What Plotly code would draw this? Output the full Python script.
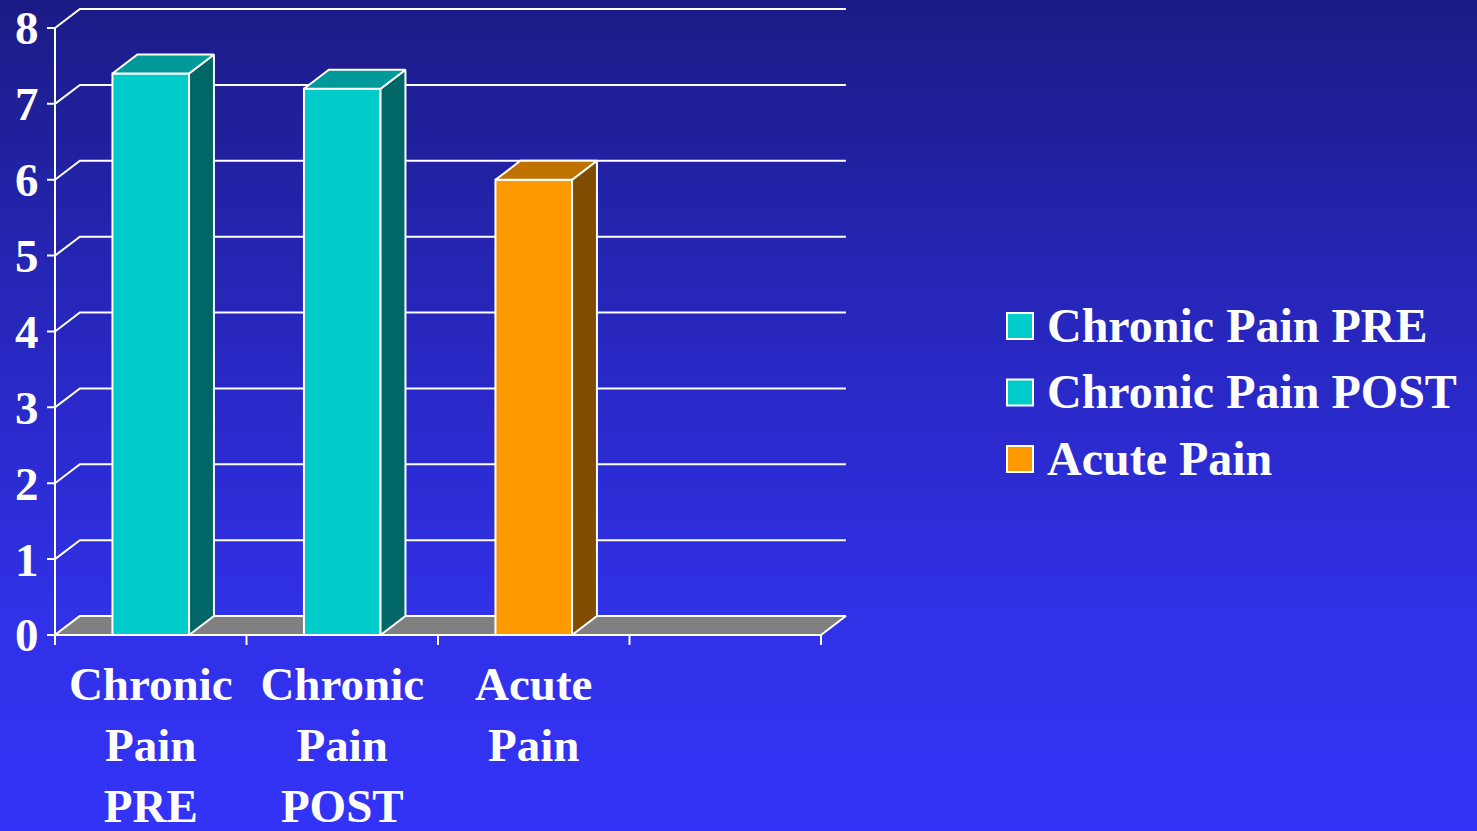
import plotly.graph_objects as go

# ---------------- data ----------------
categories = ["Chronic<br>Pain<br>PRE", "Chronic<br>Pain<br>POST", "Acute<br>Pain"]
series_names = ["Chronic Pain PRE", "Chronic Pain POST", "Acute Pain"]
values = [7.4, 7.2, 6.0]
y_ticks = [0, 1, 2, 3, 4, 5, 6, 7, 8]
n_slots = 4  # category slots on the axis (the last one is empty)

# ---------------- styles ----------------
front_colors = ["#00cccc", "#00cccc", "#ff9900"]
side_colors = ["#006666", "#006666", "#7f4c00"]
top_colors = ["#009999", "#009999", "#bf7200"]
floor_color = "#808080"
bg_stops = [(0.0, "#1b1b86"), (0.25, "#2323aa"), (0.5, "#2a2acc"), (0.75, "#3131e8"), (1.0, "#3333f7")]
FONT = "Liberation Serif"
FS = 47
FS_LEG = 48

W, H = 1477, 831
DX, DY = 0.13, 0.25          # 3-D depth offset (category units, value units)
BAR_W = 0.4
X_LO, X_HI = -0.56, n_slots - 0.5 + DX + 0.02
Y_LO, Y_HI = -0.16, 8.32
PX_X, PX_X0 = 191.5, 55.0    # px per category, px of x=-0.5
PX_Y, PX_Y0 = 75.875, 635.0  # px per unit, px of y=0

left_px = PX_X0 + (X_LO + 0.5) * PX_X
right_px = PX_X0 + (X_HI + 0.5) * PX_X
top_px = PX_Y0 - Y_HI * PX_Y
bot_px = PX_Y0 - Y_LO * PX_Y
x_dom = [left_px / W, right_px / W]
y_dom = [1 - bot_px / H, 1 - top_px / H]

fig = go.Figure()

# background gradient
fracs = [s[0] for s in bg_stops]
fig.add_trace(go.Heatmap(
    x=[0, 1], y=[f * H for f in fracs], z=[[f, f] for f in fracs],
    colorscale=[[f, c] for f, c in bg_stops], zmin=0, zmax=1,
    zsmooth="best", showscale=False, hoverinfo="skip", xaxis="x", yaxis="y"))

# back grid lines
gx, gy = [], []
x_left, x_right = -0.5, n_slots - 0.5
for t in y_ticks:
    gx += [x_left, x_left + DX, x_right + DX, None]
    gy += [t, t + DY, t + DY, None]
fig.add_trace(go.Scatter(x=gx, y=gy, mode="lines", line=dict(color="white", width=2),
                         hoverinfo="skip", xaxis="x2", yaxis="y2"))

# floor
fig.add_trace(go.Scatter(
    x=[x_left, x_right, x_right + DX, x_left + DX, x_left],
    y=[0, 0, DY, DY, 0], mode="lines", fill="toself", fillcolor=floor_color,
    line=dict(color="white", width=2), hoverinfo="skip", xaxis="x2", yaxis="y2"))

# value axis line + ticks
tick_len_x = 8 / PX_X
ax_x = [x_left, x_left, None]
ax_y = [0, y_ticks[-1], None]
for t in y_ticks:
    ax_x += [x_left - tick_len_x, x_left, None]
    ax_y += [t, t, None]
tick_len_y = 10 / PX_Y
for b in range(n_slots + 1):
    ax_x += [x_left + b, x_left + b, None]
    ax_y += [0, -tick_len_y, None]
fig.add_trace(go.Scatter(x=ax_x, y=ax_y, mode="lines", line=dict(color="white", width=2),
                         hoverinfo="skip", xaxis="x2", yaxis="y2"))

# bars (front faces)
xs = list(range(len(values)))
fig.add_trace(go.Bar(x=xs, y=values, width=BAR_W, marker=dict(color=front_colors, line=dict(color="white", width=2)),
                     hoverinfo="skip", xaxis="x3", yaxis="y3"))
# side and top faces
for i, v in enumerate(values):
    l, r = i - BAR_W / 2, i + BAR_W / 2
    fig.add_trace(go.Scatter(x=[r, r + DX, r + DX, r, r], y=[0, DY, v + DY, v, 0],
                             mode="lines", fill="toself", fillcolor=side_colors[i],
                             line=dict(color="white", width=2), hoverinfo="skip", xaxis="x3", yaxis="y3"))
    fig.add_trace(go.Scatter(x=[l, r, r + DX, l + DX, l], y=[v, v, v + DY, v + DY, v],
                             mode="lines", fill="toself", fillcolor=top_colors[i],
                             line=dict(color="white", width=2), hoverinfo="skip", xaxis="x3", yaxis="y3"))

tickfont = dict(family=FONT, size=FS, color="white", weight="bold")
legfont = dict(family=FONT, size=FS_LEG, color="white", weight="bold")

# legend (drawn manually so the keys match the reference size)
leg_y0, leg_step = 326, 66.5
shapes, annotations = [], []
for i, name in enumerate(series_names):
    yc = leg_y0 + i * leg_step
    shapes.append(dict(type="rect", xref="paper", yref="paper",
                       x0=1007 / W, x1=1033 / W, y0=1 - (yc + 13) / H, y1=1 - (yc - 13) / H,
                       fillcolor=front_colors[i], line=dict(color="white", width=2)))
    annotations.append(dict(xref="paper", yref="paper", x=1045 / W, y=1 - (yc - 1) / H,
                            xanchor="left", yanchor="middle", text=name, showarrow=False,
                            font=legfont))

fig.update_layout(
    width=W, height=H, margin=dict(l=0, r=0, t=0, b=0, pad=0, autoexpand=False), autosize=False,
    paper_bgcolor="#3333f7", plot_bgcolor="rgba(0,0,0,0)", showlegend=False,
    xaxis=dict(domain=[0, 1], range=[0, 1], visible=False, fixedrange=True, automargin=False),
    yaxis=dict(domain=[0, 1], range=[H, 0], visible=False, fixedrange=True, automargin=False),
    xaxis2=dict(domain=x_dom, range=[X_LO, X_HI], anchor="y2", tickvals=xs, ticktext=categories,
                ticks="", showgrid=False, zeroline=False, showline=False, tickfont=tickfont,
                ticklabelstandoff=5, automargin=False),
    yaxis2=dict(domain=y_dom, range=[Y_LO, Y_HI], anchor="x2", tickvals=y_ticks, ticks="",
                showgrid=False, zeroline=False, showline=False, tickfont=tickfont,
                ticklabelstandoff=4, automargin=False),
    xaxis3=dict(range=[X_LO, X_HI], overlaying="x2", anchor="y3", visible=False, automargin=False),
    yaxis3=dict(range=[Y_LO, Y_HI], overlaying="y2", anchor="x3", visible=False, automargin=False),
    shapes=shapes, annotations=annotations,
)

fig.write_html("out.html", config={"displayModeBar": False},
               post_script="document.body.style.margin='0px';document.body.style.overflow='hidden';")
